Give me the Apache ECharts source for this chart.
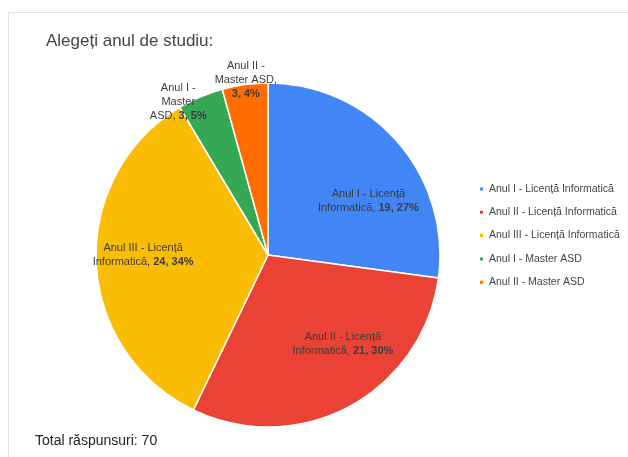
<!DOCTYPE html>
<html><head><meta charset="utf-8">
<script src="https://cdn.jsdelivr.net/npm/echarts@6/dist/echarts.min.js"></script>
<style>html,body{margin:0;padding:0;background:#fff}#c{width:628px;height:457px}</style>
</head><body><div id="c"></div>
<script>
const categories = ['Anul I - Licență Informatică','Anul II - Licență Informatică','Anul III - Licență Informatică','Anul I - Master ASD','Anul II - Master ASD'];
const values = [19, 21, 24, 3, 3];
const percents = ['27%', '30%', '34%', '5%', '4%'];
const colors = ['#4285f4', '#ea4335', '#fbbc04', '#34a853', '#ff6d01'];
const titleText = 'Alegeți anul de studiu:';
const totalText = 'Total răspunsuri: 70';
const smallIdx = [3, 4];
// label nudges (presentation only), in px
const labelNudge = [[10, 25], [18, -17], [-5, -5], [-19, 12], [2, 3]];

const font = '"Liberation Sans", Arial, sans-serif';
const chart = echarts.init(document.getElementById('c'));
const CENTER = [268, 255];
const R = 172;

function wrapName(name, i) {
  const val = '{b|' + values[i] + ', ' + percents[i] + '}';
  if (name.indexOf(' Informatică') >= 0) {
    return name.replace(' Informatică', '\nInformatică') + ', ' + val;
  }
  const parts = name.split(' - ');
  const rest = parts[1].split(' ');
  if (i === 3) return parts[0] + ' -\n' + rest[0] + '\n' + rest[1] + ', ' + val;
  return parts[0] + ' -\n' + parts[1] + ',\n' + val;
}

const mainData = categories.map((n, i) => ({ name: n, value: values[i], itemStyle: { color: colors[i] } }));
const labelStyle = {
  show: true, position: 'inside', fontFamily: font, fontSize: 11, color: '#3d3d3d',
  lineHeight: 14, align: 'center',
  formatter: p => wrapName(p.name, p.dataIndex),
  rich: { b: { fontFamily: font, fontSize: 11, fontWeight: 'bold', color: '#3d3d3d', lineHeight: 14 } }
};
const labelLayout = p => ({ dx: labelNudge[p.dataIndex][0], dy: labelNudge[p.dataIndex][1], hideOverlap: false });
const bigLabelData = categories.map((n, i) => ({ name: n, value: values[i], label: { show: smallIdx.indexOf(i) < 0 } }));
const smallLabelData = categories.map((n, i) => ({ name: n, value: values[i], label: { show: smallIdx.indexOf(i) >= 0 } }));

chart.setOption({
  animation: false,
  color: colors,
  title: {
    text: titleText, left: 41, top: 28,
    textStyle: { fontFamily: font, fontSize: 17, fontWeight: 'normal', color: '#444' }
  },
  legend: {
    orient: 'vertical', left: 473, top: 177,
    data: categories, icon: 'rect', itemWidth: 5, itemHeight: 5, itemGap: 9.3,
    textStyle: { fontFamily: font, fontSize: 10.5, color: '#444', lineHeight: 14 }
  },
  graphic: [
    { type: 'line', shape: { x1: 8, y1: 12.5, x2: 628, y2: 12.5 }, style: { stroke: '#e0e0e0', lineWidth: 1 } },
    { type: 'line', shape: { x1: 8.5, y1: 12, x2: 8.5, y2: 457 }, style: { stroke: '#e0e0e0', lineWidth: 1 } },
    { type: 'text', left: 35, top: 434, style: { text: totalText, font: '14px ' + font, fill: '#222' } }
  ],
  series: [
    {
      type: 'pie', center: CENTER, radius: [0, R], startAngle: 90, clockwise: true,
      label: { show: false }, labelLine: { show: false }, silent: true,
      itemStyle: { borderColor: '#fff', borderWidth: 1.5 },
      data: mainData
    },
    {
      type: 'pie', center: CENTER, radius: [62, R], startAngle: 90, clockwise: true, silent: true,
      avoidLabelOverlap: false, labelLayout: labelLayout,
      itemStyle: { color: 'rgba(0,0,0,0)' }, label: labelStyle, labelLine: { show: false },
      data: bigLabelData
    },
    {
      type: 'pie', center: CENTER, radius: [R, R + 10], startAngle: 90, clockwise: true, silent: true,
      avoidLabelOverlap: false, labelLayout: labelLayout,
      itemStyle: { color: 'rgba(0,0,0,0)' }, label: labelStyle, labelLine: { show: false },
      data: smallLabelData
    }
  ]
});
</script></body></html>
